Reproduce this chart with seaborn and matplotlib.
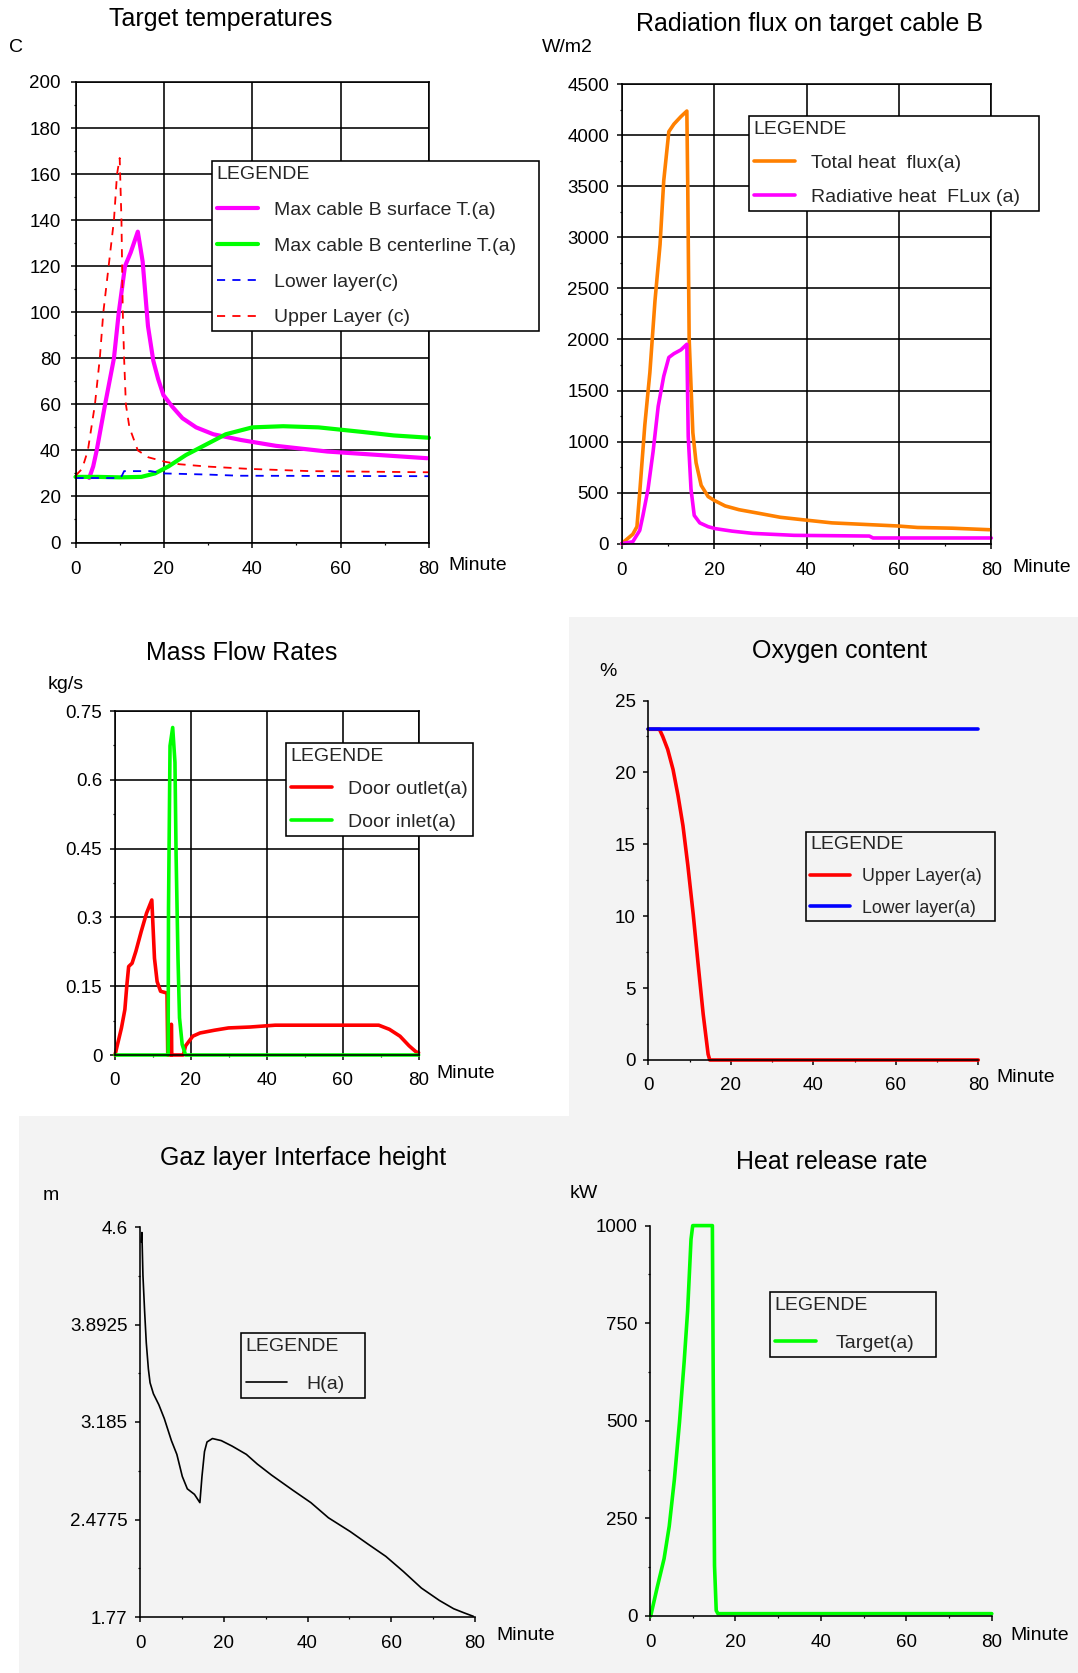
import numpy as np
import pandas as pd
import matplotlib
matplotlib.use("Agg")
import matplotlib.pyplot as plt
import seaborn as sns
from matplotlib.patches import Rectangle
from matplotlib.ticker import MultipleLocator, FixedLocator, FixedFormatter

sns.set_style("white")
plt.rcParams['font.family'] = ['Liberation Sans', 'DejaVu Sans']

# ---------------- data ----------------
# Panel 1: Target temperatures (C)
surf_t = [3.1, 4.0, 4.8, 6.7, 8.7, 9.8, 11.2, 12.5, 14.1, 15.2, 16.4, 17.6, 18.7, 19.9, 21.9, 24.2, 27.3, 31.2, 37.5, 45.3, 57.0, 68.7, 79.6]
surf_T = [28, 33, 40, 60, 80, 100, 120, 126, 135, 122, 94, 79, 71, 64, 59, 54, 50, 47, 44.5, 42, 39.5, 38, 36.6]
cent_t = [0, 5, 10, 14.9, 18, 21, 25, 30, 34, 38, 40, 47, 55, 60, 65, 72, 80]
cent_T = [28.5, 28.5, 28.3, 28.5, 30, 33, 38, 43, 47, 49, 50, 50.5, 50, 49, 48, 46.5, 45.5]
low_t = [0, 10.0, 10.5, 11.0, 17.0, 20.0, 30.0, 37.0, 80.0]
low_T = [28, 28, 29, 31, 31, 30, 29.5, 29, 28.8]
up_t = [0, 1.5, 2.8, 4.4, 5.5, 6.3, 7.5, 8.7, 9.4, 10.0, 10.4, 10.7, 11.0, 11.4, 12.2, 14.1, 16.5, 20.4, 23.5, 29.7, 39.0, 53.0, 80.0]
up_T = [29, 32, 40, 60, 80, 100, 120, 140, 160, 167, 140, 100, 80, 60, 50, 40, 37, 35, 34, 33, 32, 31, 30.5]

# Panel 2: Radiation flux on target cable B (W/m2)
tot_t = [0, 2.4, 3.3, 3.9, 5.0, 6.1, 7.2, 8.3, 9.1, 10.2, 11.3, 12.8, 14.1, 14.3, 14.6, 15.4, 16.1, 17.2, 18.7, 20.0, 22.4, 25.4, 29.9, 34.3, 39.5, 45.5, 54.4, 59.6, 64.0, 71.5, 79.6]
tot_F = [0, 92, 166, 500, 1160, 1677, 2377, 2930, 3556, 4036, 4110, 4183, 4238, 3483, 2009, 1087, 792, 571, 461, 424, 369, 332, 295, 258, 232, 203, 184, 173, 158, 151, 136]
rad_t = [0, 2.4, 3.9, 4.6, 5.7, 6.8, 7.9, 9.1, 10.2, 11.3, 12.8, 14.1, 14.4, 15.0, 15.7, 16.9, 18.7, 20.2, 23.9, 28.4, 37.3, 53.6, 54.4, 80.0]
rad_F = [0, 18, 129, 276, 534, 903, 1345, 1640, 1824, 1861, 1898, 1953, 1050, 534, 276, 203, 166, 147, 122, 100, 81, 74, 55, 55]

# Panel 3: Mass flow rates (kg/s)
out_t = [0, 1.7, 2.6, 3.1, 3.6, 4.5, 5.5, 6.9, 8.3, 9.7, 10.4, 11.1, 12.0, 13.7, 13.9, 14.8, 14.85, 14.95, 18.0, 18.6, 20.5, 22.4, 26.2, 29.9, 35.6, 42.2, 69.5, 72.3, 75.1, 77.5, 79.3, 80.0]
out_m = [0, 0.059, 0.099, 0.15, 0.193, 0.2, 0.226, 0.269, 0.309, 0.338, 0.211, 0.16, 0.139, 0.135, 0.0, 0.0, 0.067, 0.0, 0.0, 0.02, 0.041, 0.048, 0.054, 0.059, 0.061, 0.065, 0.065, 0.056, 0.041, 0.02, 0.007, 0.005]
in_t = [0, 14.0, 14.1, 14.5, 15.2, 15.8, 16.1, 16.6, 17.0, 17.7, 18.6, 80]
in_m = [0, 0, 0.32, 0.674, 0.714, 0.638, 0.435, 0.211, 0.081, 0.023, 0, 0]
mass_ticks = [0, 0.15, 0.3, 0.45, 0.6, 0.75]
mass_labels = ["0", "0.15", "0.3", "0.45", "0.6", "0.75"]

# Panel 4: Oxygen content (%)
o2lo_t = [0, 80]
o2lo_v = [23, 23]
o2up_t = [0, 2.7, 3.5, 4.7, 6.0, 7.2, 8.4, 9.6, 10.9, 12.1, 13.3, 14.5, 14.9, 80]
o2up_v = [23, 23, 22.5, 21.6, 20.2, 18.4, 16.3, 13.5, 10.1, 6.6, 3.2, 0.4, 0, 0]

# Panel 5: Gas layer interface height (m)
h_t = [0.26, 0.45, 0.7, 1.1, 1.5, 2.0, 2.4, 3.2, 4.5, 5.8, 7.5, 8.8, 10.1, 11.3, 13.0, 14.3, 14.8, 15.4, 16.0, 17.3, 19.4, 22.0, 25.4, 28.0, 31.4, 36.5, 40.8, 45.0, 50.2, 54.4, 58.7, 62.9, 67.2, 71.5, 74.9, 77.4, 79.6]
h_v = [4.49, 4.56, 4.25, 3.99, 3.76, 3.57, 3.47, 3.39, 3.31, 3.21, 3.05, 2.95, 2.79, 2.70, 2.66, 2.60, 2.79, 2.97, 3.04, 3.065, 3.05, 3.01, 2.95, 2.88, 2.80, 2.69, 2.60, 2.49, 2.39, 2.30, 2.21, 2.10, 1.98, 1.89, 1.83, 1.80, 1.775]
h_ticks = [1.77, 2.4775, 3.185, 3.8925, 4.6]
h_labels = ["1.77", "2.4775", "3.185", "3.8925", "4.6"]

# Panel 6: Heat release rate (kW)
q_t = [0.16, 1.7, 3.3, 4.5, 5.7, 6.9, 8.0, 8.8, 9.6, 10.0, 14.6, 14.8, 15.1, 15.5, 15.9, 80]
q_v = [0, 74, 147, 230, 349, 496, 652, 781, 965, 1000, 1000, 606, 129, 14, 6, 6]

x_ticks = [0, 20, 40, 60, 80]

# ---------------- figure ----------------
W, H = 1078, 1673
fig = plt.figure(figsize=(W / 100, H / 100), dpi=100)
fig.patch.set_facecolor("white")
GRAY = "#f3f3f3"

def fx(px):
    return px / W

def fy(py):
    return 1 - py / H

# gray background regions
fig.add_artist(Rectangle((fx(569), fy(1116)), fx(W) - fx(569), fy(617) - fy(1116),
                         transform=fig.transFigure, facecolor=GRAY, edgecolor="none", zorder=0))
fig.add_artist(Rectangle((fx(19), 0), 1 - fx(19), fy(1116),
                         transform=fig.transFigure, facecolor=GRAY, edgecolor="none", zorder=0))

def add_ax(l, t, r, b):
    return fig.add_axes([fx(l), fy(b), fx(r) - fx(l), fy(t) - fy(b)])

TICK_FS = 13.5
PT = 0.72  # 1 px in points at dpi 100

def style_axes(ax, grid, face, xpad, ypad=5.5):
    ax.set_facecolor(face)
    ax.set_xlim(0, 80)
    ax.set_xticks(x_ticks)
    ax.xaxis.set_minor_locator(MultipleLocator(10))
    ax.tick_params(which="major", direction="out", length=5 * PT, width=1.5 * PT,
                   color="black", labelsize=TICK_FS, labelcolor="black")
    ax.tick_params(axis="x", which="major", pad=xpad)
    ax.tick_params(axis="y", which="major", pad=ypad)
    ax.tick_params(which="minor", direction="out", length=2.5 * PT, width=1.2 * PT, color="black")
    ax.tick_params(bottom=True, left=True, which="both")
    ax.set_xlabel("")
    ax.set_ylabel("")
    if grid:
        ax.grid(True, which="major", color="black", lw=1.6 * PT)
        ax.set_axisbelow(True)
        for s in ax.spines.values():
            s.set_visible(True)
            s.set_color("black")
            s.set_linewidth(1.6 * PT)
    else:
        ax.grid(False)
        for k in ("top", "right"):
            ax.spines[k].set_visible(False)
        for k in ("left", "bottom"):
            ax.spines[k].set_color("black")
            ax.spines[k].set_linewidth(1.6 * PT)

def line(ax, x, y, color, lw, ls="-", label=None):
    sns.lineplot(x=x, y=y, ax=ax, color=color, lw=lw, linestyle=ls, label=label,
                 estimator=None, sort=False, clip_on=False)

def legend(ax, left, top, width, face, hl=2.1, ls=0.63, fs=14, htp=0.85):
    leg = ax.legend(loc="upper left", bbox_to_anchor=(fx(left), fy(top), fx(width), 0),
                    bbox_transform=fig.transFigure, mode="expand", borderaxespad=0,
                    title="LEGENDE", alignment="left", fontsize=fs, title_fontsize=14,
                    handlelength=hl, handletextpad=htp, labelspacing=ls, borderpad=0.25,
                    fancybox=False, framealpha=1, edgecolor="black", facecolor=face)
    leg.get_frame().set_linewidth(1.6 * PT)
    return leg

def label(px, py, s, size=14, ha="left"):
    fig.text(fx(px), fy(py), s, fontsize=size, ha=ha, va="center", color="black")

TITLE_FS = 18

# ---- Panel 1 ----
ax1 = add_ax(75.5, 82, 429, 542.5)
line(ax1, surf_t, surf_T, "#ff00ff", 3.0, label="Max cable B surface T.(a)")
line(ax1, cent_t, cent_T, "#00ff00", 3.0, label="Max cable B centerline T.(a)")
line(ax1, low_t, low_T, "#0000ff", 1.3, ls=(0, (4.5, 4)), label="Lower layer(c)")
line(ax1, up_t, up_T, "#ff0000", 1.3, ls=(0, (4.5, 4)), label="Upper Layer (c)")
style_axes(ax1, True, "white", xpad=9.5, ypad=7)
ax1.set_ylim(0, 200)
ax1.yaxis.set_major_locator(MultipleLocator(20))
ax1.yaxis.set_minor_locator(MultipleLocator(10))
legend(ax1, 212, 161, 327, "white", ls=0.94)
label(221, 19, "Target temperatures", TITLE_FS, ha="center")
label(9, 47, "C")
label(448, 566, "Minute")

# ---- Panel 2 ----
ax2 = add_ax(621.7, 84.3, 991.3, 543.6)
line(ax2, tot_t, tot_F, "#ff8000", 2.6, label="Total heat  flux(a)")
line(ax2, rad_t, rad_F, "#ff00ff", 2.6, label="Radiative heat  FLux (a)")
style_axes(ax2, True, "white", xpad=9.5)
ax2.set_ylim(0, 4500)
ax2.yaxis.set_major_locator(MultipleLocator(500))
ax2.yaxis.set_minor_locator(MultipleLocator(250))
legend(ax2, 749, 116, 290, "white", ls=0.84)
label(809, 24, "Radiation flux on target cable B", TITLE_FS, ha="center")
label(542, 47, "W/m2")
label(1012, 568, "Minute")

# ---- Panel 3 ----
ax3 = add_ax(115, 711, 418.6, 1055)
line(ax3, out_t, out_m, "#ff0000", 2.6, label="Door outlet(a)")
line(ax3, in_t, in_m, "#00ff00", 2.6, label="Door inlet(a)")
style_axes(ax3, True, "white", xpad=8.5)
ax3.set_ylim(0, 0.75)
ax3.yaxis.set_major_locator(FixedLocator(mass_ticks))
ax3.yaxis.set_major_formatter(FixedFormatter(mass_labels))
ax3.yaxis.set_minor_locator(MultipleLocator(0.075))
legend(ax3, 286, 743, 187, "white", ls=0.8)
label(242, 653, "Mass Flow Rates", TITLE_FS, ha="center")
label(48, 685, "kg/s")
label(436, 1074, "Minute")

# ---- Panel 4 ----
ax4 = add_ax(648.3, 700.5, 978.3, 1060)
line(ax4, o2up_t, o2up_v, "#ff0000", 2.6, label="Upper Layer(a)")
line(ax4, o2lo_t, o2lo_v, "#0000ff", 2.6, label="Lower layer(a)")
style_axes(ax4, False, GRAY, xpad=8.5)
ax4.set_ylim(0, 25)
ax4.yaxis.set_major_locator(MultipleLocator(5))
ax4.yaxis.set_minor_locator(MultipleLocator(2.5))
legend(ax4, 806, 832, 189, GRAY, ls=0.82, fs=12.8, hl=2.2, htp=0.7)
label(840, 651, "Oxygen content", TITLE_FS, ha="center")
label(599, 671, "%")
label(996, 1078, "Minute")

# ---- Panel 5 ----
ax5 = add_ax(140, 1227, 475, 1617)
line(ax5, h_t, h_v, "black", 1.2, label="H(a)")
style_axes(ax5, False, GRAY, xpad=9.5)
ax5.set_ylim(1.77, 4.6)
ax5.yaxis.set_major_locator(FixedLocator(h_ticks))
ax5.yaxis.set_major_formatter(FixedFormatter(h_labels))
ax5.yaxis.set_minor_locator(FixedLocator([2.12375, 2.83125, 3.53875, 4.24625]))
legend(ax5, 241, 1333, 124, GRAY, ls=1.07, htp=1.0)
label(303, 1158, "Gaz layer Interface height", TITLE_FS, ha="center")
label(43, 1196, "m")
label(496, 1636, "Minute")

# ---- Panel 6 ----
ax6 = add_ax(650, 1225.6, 991.8, 1616)
line(ax6, q_t, q_v, "#00ff00", 2.6, label="Target(a)")
style_axes(ax6, False, GRAY, xpad=9.5)
ax6.set_ylim(0, 1000)
ax6.yaxis.set_major_locator(MultipleLocator(250))
ax6.yaxis.set_minor_locator(MultipleLocator(125))
legend(ax6, 770, 1292, 166, GRAY, ls=1.04, htp=1.0)
label(832, 1162, "Heat release rate", TITLE_FS, ha="center")
label(570, 1193, "kW")
label(1010, 1636, "Minute")

fig.savefig("out.png", dpi=100, facecolor=fig.get_facecolor())
